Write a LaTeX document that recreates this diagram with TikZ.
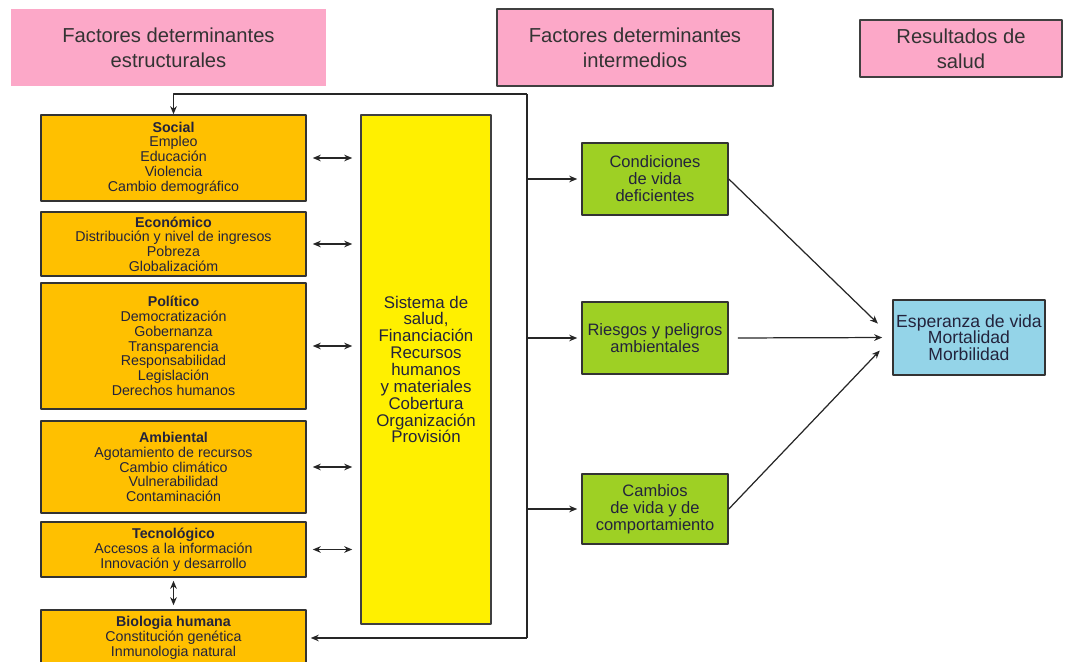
\documentclass[tikz,border=0pt]{standalone}
\usepackage{fontspec}
\setmainfont{Liberation Sans}
\usetikzlibrary{arrows.meta}
\definecolor{rosa}{RGB}{252,168,200}
\definecolor{naranja}{RGB}{255,192,0}
\definecolor{amarillo}{RGB}{255,240,0}
\definecolor{verde}{RGB}{158,208,36}
\definecolor{celeste}{RGB}{148,212,232}
\definecolor{tinta}{RGB}{35,35,60}
\begin{document}
\begin{tikzpicture}[x=0.02cm,y=-0.02cm,>={Stealth[length=4.6pt,width=3.8pt]},line join=round,
  titulo/.style={fill=rosa,align=center,inner sep=0pt,text=black!80,font=\fontsize{11.5}{14}\selectfont},
  factor/.style={draw=black!80,line width=0.9pt,fill=naranja,minimum width=5.3cm,align=center,inner sep=0pt,text=tinta,font=\fontsize{8.1}{8.4}\selectfont},
  sistema/.style={draw=black!75,line width=0.9pt,fill=amarillo,align=center,inner sep=0pt,text=tinta,font=\fontsize{9.6}{9.6}\selectfont},
  intermedio/.style={draw=black!80,line width=0.9pt,fill=verde,minimum width=2.92cm,align=center,inner sep=0pt,text=tinta,font=\fontsize{9.4}{9.7}\selectfont},
  resultado/.style={draw=black!80,line width=0.9pt,fill=celeste,align=center,inner sep=0pt,text=tinta,font=\fontsize{10}{9.5}\selectfont},
  conector/.style={draw=black!85,line width=0.7pt}]
\useasboundingbox (0,0) rectangle (1078,662);
\clip (0,0) rectangle (1078,662);
% encabezados
\node[titulo,minimum width=6.3cm,minimum height=1.54cm] (estructurales) at (168.5,47.5) {Factores determinantes\\estructurales};
\node[titulo,draw=black!75,line width=0.9pt,minimum width=5.52cm,minimum height=1.54cm] (intermedios) at (635,47.5) {Factores determinantes\\intermedios};
\node[titulo,draw=black!75,line width=0.9pt,minimum width=4.04cm,minimum height=1.14cm] (resultados) at (961,48.5) {Resultados de\\salud};
% factores estructurales
\node[factor,minimum height=1.72cm] (social) at (173.5,158) {\textbf{Social}\\Empleo\\Educación\\Violencia\\Cambio demográfico};
\node[factor,minimum height=1.28cm] (economico) at (173.5,244) {\textbf{Económico}\\Distribución y nivel de ingresos\\Pobreza\\Globalizacióm};
\node[factor,minimum height=2.52cm] (politico) at (173.5,346) {\textbf{Político}\\Democratización\\Gobernanza\\Transparencia\\Responsabilidad\\Legislación\\Derechos humanos};
\node[factor,minimum height=1.84cm] (ambiental) at (173.5,467) {\textbf{Ambiental}\\Agotamiento de recursos\\Cambio climático\\Vulnerabilidad\\Contaminación};
\node[factor,minimum height=1.1cm] (tecnologico) at (173.5,549.5) {\textbf{Tecnológico}\\Accesos a la información\\Innovación y desarrollo};
\node[factor,minimum height=1.12cm] (biologia) at (173.5,638) {\textbf{Biologia humana}\\Constitución genética\\Inmunologia natural};
\node[sistema,minimum width=2.6cm,minimum height=10.18cm] (salud) at (426,369.5) {Sistema de\\salud,\\Financiación\\Recursos\\humanos\\y materiales\\Cobertura\\Organización\\Provisión};
% factores intermedios y resultado
\node[intermedio,minimum height=1.44cm] (condiciones) at (655,179) {Condiciones\\de vida\\deficientes};
\node[intermedio,minimum height=1.44cm] (riesgos) at (655,338) {Riesgos y peligros\\ambientales};
\node[intermedio,minimum height=1.4cm] (cambios) at (655,509) {Cambios\\de vida y de\\comportamiento};
\node[resultado,minimum width=3.04cm,minimum height=1.5cm] (esperanza) at (969,337.5) {Esperanza de vida\\Mortalidad\\Morbilidad};
% conectores
\foreach \n in {social,economico,politico,ambiental,tecnologico}
\draw[conector,<->,shorten <=0.12cm,shorten >=0.16cm] (\n.east) -- (\n.east -| salud.west);
\draw[conector,<->,shorten <=0.06cm,shorten >=0.08cm] (tecnologico.south) -- (biologia.north);
\coordinate (busT) at (527,94);
\coordinate (busB) at (527,638);
\draw[conector] (busT) -- (busB);
\draw[conector,->] (busT) -| (social.north);
\draw[conector,->,shorten >=0.08cm] (busB) -- (biologia.east);
\foreach \n in {condiciones,riesgos,cambios}
\draw[conector,->,shorten >=0.08cm] (busT |- \n.west) -- (\n.west);
\draw[conector,->,shorten >=0.4cm] (condiciones.east) -- (esperanza.west);
\draw[conector,->,shorten <=0.18cm,shorten >=0.2cm] (riesgos.east) -- (esperanza.west);
\draw[conector,->,shorten >=0.36cm] (cambios.east) -- (esperanza.west);
\end{tikzpicture}
\end{document}
